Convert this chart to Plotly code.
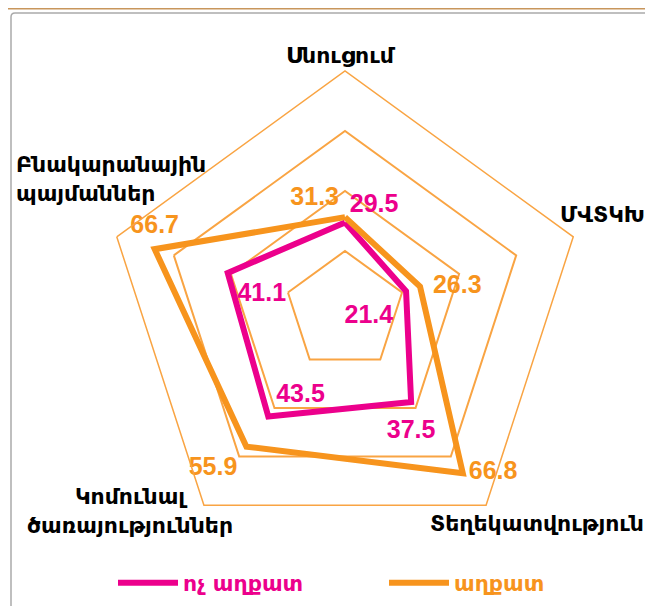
import plotly.graph_objects as go

categories = ["Սնուցում", "ՄՎՏԿԽ", "Տեղեկատվություն",
              "Կոմունալ ծառայություններ", "Բնակարանային պայմաններ"]
non_poor = [29.5, 21.4, 37.5, 43.5, 41.1]
poor = [31.3, 26.3, 66.8, 55.9, 66.7]
series_names = ["ոչ աղքատ", "աղքատ"]

PINK = "#EC008C"
ORANGE = "#F7941D"
GRID = "#F9A443"

W, H = 653, 606
cx, cy, R = 337, 303, 240

fig = go.Figure()

def closed(v):
    return list(v) + [v[0]]

theta_c = closed(categories)

fig.add_trace(go.Scatterpolar(
    r=closed(non_poor), theta=theta_c, mode="lines",
    line=dict(color=PINK, width=6),
    name=f'<span style="color:{PINK}"><b>{series_names[0]}</b></span>',
))
fig.add_trace(go.Scatterpolar(
    r=closed(poor), theta=theta_c, mode="lines",
    line=dict(color=ORANGE, width=6),
    name=f'<span style="color:{ORANGE}"><b>{series_names[1]}</b></span>',
))

# data labels (invisible markers only set the label offset)
pink_pos = ["top right", "bottom left", "bottom center", "top right", "bottom right"]
pink_gap = [6, 19, 26, 11, 14]
orange_pos = ["top left", "middle right", "middle right", "bottom left", "top center"]
orange_gap = [8, 19, 8, 13, 14]
lab_font = dict(family="Liberation Sans, Arial, sans-serif", size=25)
fig.add_trace(go.Scatterpolar(
    r=non_poor, theta=categories, mode="markers+text",
    marker=dict(size=pink_gap, opacity=0),
    text=[f"<b>{v}</b>" for v in non_poor], textposition=pink_pos,
    textfont=dict(color=PINK, **lab_font), showlegend=False, hoverinfo="skip",
))
fig.add_trace(go.Scatterpolar(
    r=poor, theta=categories, mode="markers+text",
    marker=dict(size=orange_gap, opacity=0),
    text=[f"<b>{v}</b>" for v in poor], textposition=orange_pos,
    textfont=dict(color=ORANGE, **lab_font), showlegend=False, hoverinfo="skip",
))

cat_font = dict(family="DejaVu Sans, sans-serif", size=22, color="black")
cat_labels = [
    ("<b>Սնուցում</b>", 333, 47, "center", "center"),
    ("<b>ՄՎՏԿԽ</b>", 594, 206, "center", "center"),
    ("<b>Տեղեկատվություն</b>", 529, 515, "center", "center"),
    ("<b>Կոմունալ</b><br><b>ծառայություններ</b>", 122, 503, "center", "center"),
    ("<b>Բնակարանային</b><br><b>պայմաններ</b>", 6, 171, "left", "left"),
]
for txt, px, py, xa, al in cat_labels:
    fig.add_annotation(text=txt, x=px / W, y=1 - py / H, xref="paper", yref="paper",
                       xanchor=xa, yanchor="middle", align=al, showarrow=False,
                       font=cat_font)

fig.update_layout(
    width=W, height=H,
    margin=dict(l=0, r=0, t=0, b=0),
    paper_bgcolor="white",
    font=dict(family="Liberation Sans, DejaVu Sans, sans-serif", color="black"),
    polar=dict(
        domain=dict(x=[(cx - R) / W, (cx + R) / W],
                    y=[(H - cy - R) / H, (H - cy + R) / H]),
        bgcolor="rgba(0,0,0,0)",
        gridshape="linear",
        radialaxis=dict(range=[0, 80], dtick=20, showticklabels=False,
                        ticks="", showline=False, gridcolor=GRID, gridwidth=1.5),
        angularaxis=dict(rotation=90, direction="clockwise",
                         showgrid=False, showline=True, linecolor=GRID, linewidth=1.5,
                         ticks="", showticklabels=False),
    ),
    legend=dict(orientation="h", x=105 / W, y=1 - 575 / H, xanchor="left", yanchor="middle",
                entrywidth=196, entrywidthmode="pixels", itemwidth=60,
                font=dict(size=22, family="DejaVu Sans, sans-serif"),
                bgcolor="rgba(0,0,0,0)"),
    showlegend=True,
)

# frame
fig.add_shape(type="line", xref="paper", yref="paper", x0=0, x1=1, y0=1 - 0.5 / H, y1=1 - 0.5 / H,
              line=dict(color="#C8965C", width=2))
fig.add_shape(type="path", xref="paper", yref="paper",
              path=f"M {3/W} {1 - 9/H} L {3/W} {1 - 600/H} Q {3/W} {1 - 604/H} {7/W} {1 - 604/H} L 1.02 {1 - 604/H} "
                   f"M {7/W} {1 - 5/H} L 1.02 {1 - 5/H} M {3/W} {1 - 9/H} Q {3/W} {1 - 5/H} {7/W} {1 - 5/H}",
              line=dict(color="#AAAAAA", width=1.5))

fig.write_html("out.html")
